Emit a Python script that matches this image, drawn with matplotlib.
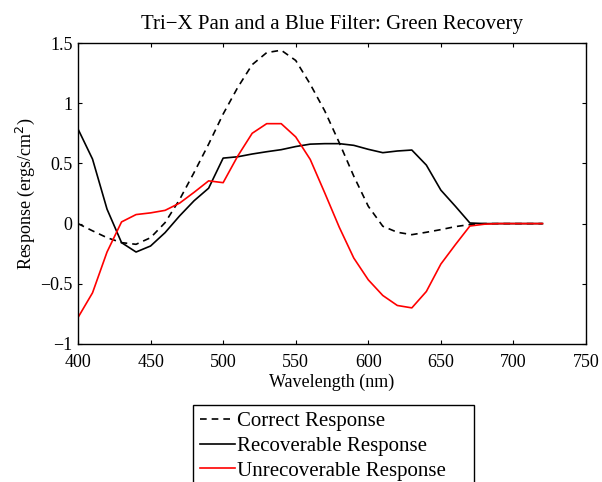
import numpy as np
import matplotlib
matplotlib.use("Agg")
import matplotlib.pyplot as plt
from matplotlib.ticker import FuncFormatter

# ============================================================
# Data
# ============================================================
wavelength = np.arange(400, 730, 10)

correct = [0.0, -0.06, -0.117, -0.158, -0.172, -0.117, 0.008, 0.2, 0.425, 0.66,
           0.91, 1.13, 1.32, 1.42, 1.44, 1.355, 1.158, 0.936, 0.672, 0.394,
           0.144, -0.022, -0.072, -0.092, -0.072, -0.05, -0.025, -0.008, 0.0, 0.0,
           0.0, 0.0, 0.0]

recoverable = [0.786, 0.536, 0.12, -0.158, -0.236, -0.186, -0.075, 0.064, 0.19, 0.294,
               0.544, 0.555, 0.578, 0.597, 0.614, 0.64, 0.66, 0.664, 0.664, 0.65,
               0.617, 0.589, 0.603, 0.611, 0.486, 0.278, 0.144, 0.005, 0.0, 0.0,
               0.0, 0.0, 0.0]

unrecoverable = [-0.78, -0.575, -0.236, 0.014, 0.075, 0.089, 0.11, 0.17, 0.26, 0.355,
                 0.34, 0.56, 0.75, 0.83, 0.83, 0.72, 0.533, 0.255, -0.03, -0.286,
                 -0.467, -0.597, -0.68, -0.70, -0.564, -0.336, -0.175, -0.02, -0.005, 0.0,
                 0.0, 0.0, 0.0]

x_ticks = [400, 450, 500, 550, 600, 650, 700, 750]
y_ticks = [-1, -0.5, 0, 0.5, 1, 1.5]

# ============================================================
# Plot
# ============================================================
plt.rcParams['font.family'] = ['Liberation Serif', 'DejaVu Serif']
plt.rcParams['font.size'] = 13

fig = plt.figure(figsize=(6.02, 4.82), dpi=100)
ax = fig.add_axes([78 / 602, 1 - 344 / 482, (586 - 78) / 602, (344 - 43) / 482])

ax.plot(wavelength, correct, 'k--', lw=1.2, dashes=(4, 3), label="Correct Response")
ax.plot(wavelength, recoverable, 'k-', lw=1.2, label="Recoverable Response")
ax.plot(wavelength, unrecoverable, color='red', lw=1.2, label="Unrecoverable Response")

ax.set_xlim(400, 750)
ax.set_ylim(-1, 1.5)
ax.set_xticks(x_ticks)
ax.set_yticks(y_ticks)
ax.yaxis.set_major_formatter(FuncFormatter(lambda v, p: f"{v:g}".replace("-", "\u2212")))
ax.tick_params(direction='in', top=True, right=True, length=3, width=0.8)
ax.tick_params(axis='x', pad=7)
ax.tick_params(axis='y', pad=4)
for s in ax.spines.values():
    s.set_linewidth(1.0)

ax.set_xlabel("Wavelength (nm)", labelpad=2)
ax.set_ylabel(r"Response (ergs/cm$^2$)", labelpad=2)
ax.set_title("Tri\u2212X Pan and a Blue Filter: Green Recovery", fontsize=15, pad=10)

leg = fig.legend(loc='upper left', bbox_to_anchor=(193 / 602, 1 - 405 / 482, 281 / 602, 0.0),
                 mode='expand', fancybox=False, edgecolor='black', framealpha=1,
                 handlelength=1.68, handletextpad=0.12, labelspacing=0.24,
                 borderpad=0.33, borderaxespad=0.0, fontsize=15)
leg.get_frame().set_linewidth(1.0)

fig.savefig("out.png", dpi=100)
